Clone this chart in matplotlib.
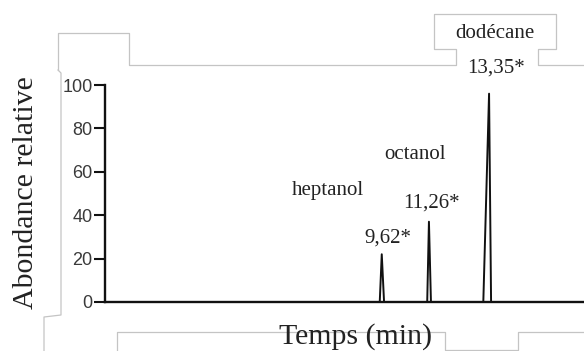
import matplotlib
matplotlib.use("Agg")
import matplotlib.pyplot as plt
from matplotlib.lines import Line2D

# retention times (min), relative abundance and peak half-widths
compounds = ["heptanol", "octanol", "dodécane"]
rt = [9.62, 11.26, 13.35]
abundance = [22, 37, 96]
left_w = [0.07, 0.06, 0.20]
right_w = [0.08, 0.07, 0.07]
rt_labels = ["9,62*", "11,26*", "13,35*"]
yticks = [0, 20, 40, 60, 80, 100]
t_start, t_end = 0.0, 16.65

W, H = 584, 351

def px(x, y):
    return x / W, 1 - y / H

def build_trace():
    T, A = [t_start], [0]
    for t, a, lw, rw in zip(rt, abundance, left_w, right_w):
        T += [t - lw, t, t + rw]
        A += [0, a, 0]
    T.append(t_end)
    A.append(0)
    return T, A

serif = "Liberation Serif"
sans = "Liberation Sans"

fig = plt.figure(figsize=(W / 100, H / 100), dpi=100)
ax = fig.add_axes([105 / W, (H - 302) / H, (W - 105) / W, 217 / H])

T, A = build_trace()
ax.plot(T, A, color="#111111", lw=1.4, clip_on=False)

ax.set_xlim(t_start, t_end)
ax.set_ylim(0, 100)
ax.set_xticks([])
ax.set_yticks(yticks)
ax.set_yticklabels([str(v) for v in yticks], fontfamily=sans, fontsize=13, color="#3a3a3a")
ax.tick_params(axis="y", length=8, width=1.5, pad=1, color="#111111")
for s in ["top", "right"]:
    ax.spines[s].set_visible(False)
for s in ["left", "bottom"]:
    ax.spines[s].set_linewidth(1.7)
    ax.spines[s].set_color("#111111")
ax.patch.set_alpha(0)

# compound names and retention time labels
name_pos = [(328, 190), (415, 154), (495, 33)]
rt_pos = [(388, 238), (431, 203), (496, 68)]
for name, lab, (nx, ny), (lx, ly) in zip(compounds, rt_labels, name_pos, rt_pos):
    fig.text(*px(nx, ny), name, fontfamily=serif, fontsize=15, color="#222222",
             ha="center", va="center")
    fig.text(*px(lx, ly), lab, fontfamily=serif, fontsize=15, color="#222222",
             ha="center", va="center")

fig.text(*px(26, 193), "Abondance relative", fontfamily=serif, fontsize=21.5,
         color="#222222", rotation=90, ha="center", va="center")
fig.text(*px(356, 337), "Temps (min)", fontfamily=serif, fontsize=21.5,
         color="#222222", ha="center", va="center")

# light grey outline of the surrounding panel
outline = [
    [(58, 70), (58, 33), (129, 33), (129, 65), (456, 65), (456, 49), (434, 49),
     (434, 14), (556, 14), (556, 49), (538, 49), (538, 65), (584, 65)],
    [(58, 70), (61, 73), (61, 315), (44, 317), (44, 351)],
    [(117, 351), (117, 332), (445, 332), (445, 350), (518, 350), (518, 332), (584, 332)],
]
for path in outline:
    xs = [p[0] / W for p in path]
    ys = [1 - p[1] / H for p in path]
    fig.add_artist(Line2D(xs, ys, color="#c4c4c4", lw=0.9, zorder=0))

fig.savefig("out.png", dpi=100)
